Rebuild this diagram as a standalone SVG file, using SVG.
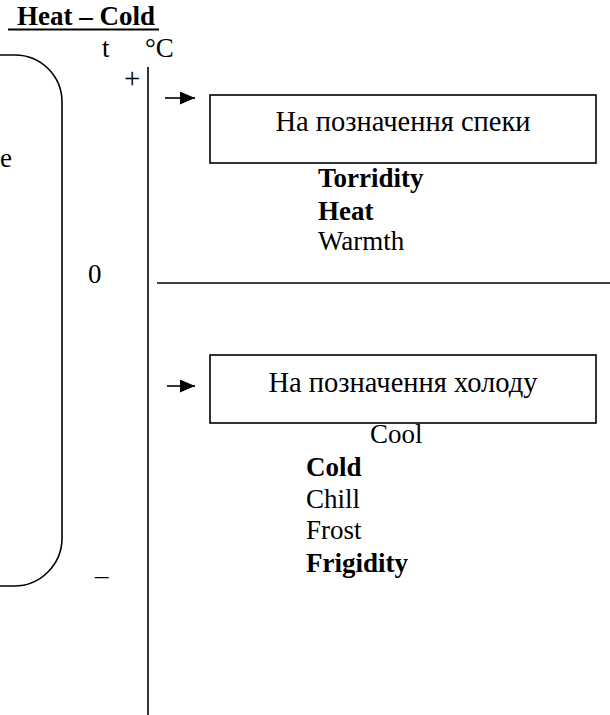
<svg xmlns="http://www.w3.org/2000/svg" width="610" height="715" viewBox="0 0 610 715">
<style>
text{font-family:"Liberation Serif","Times New Roman",serif;font-size:27px;fill:#000}
.b{font-weight:bold}
.m{text-anchor:middle;font-size:28.5px}
.ln{stroke:#000;stroke-width:1.6;fill:none}
.box{stroke:#000;stroke-width:1.6;fill:#fff}
</style>
<defs>
<marker id="ah" markerWidth="15" markerHeight="13" refX="15" refY="6.5" orient="auto" markerUnits="userSpaceOnUse">
<path d="M0,0 L15,6.5 L0,13 Z" fill="#000"/>
</marker>
</defs>
<g id="title">
<text class="b" x="17" y="25">Heat – Cold</text>
<line x1="8" y1="29.5" x2="159" y2="29.5" stroke="#000" stroke-width="2"/>
</g>
<g id="scale">
<text x="102" y="57">t</text>
<text x="145" y="57">°C</text>
<text x="124" y="88" style="font-size:29px">+</text>
<text x="88" y="283">0</text>
<text x="95" y="584">–</text>
<line class="ln" x1="148" y1="67" x2="148" y2="715"/>
<line class="ln" x1="157" y1="283" x2="610" y2="283"/>
</g>
<g id="bracket">
<path class="ln" d="M0,55 H15 A47,47 0 0 1 62,102 V538 A48,48 0 0 1 14,586 H0"/>
<text x="0" y="167">e</text>
</g>
<g id="box-heat">
<rect class="box" x="210" y="95" width="386" height="68"/>
<text class="m" x="403" y="131">На позначення спеки</text>
</g>
<g id="list-heat">
<text class="b" x="318" y="187">Torridity</text>
<text class="b" x="318" y="220">Heat</text>
<text x="318" y="250">Warmth</text>
</g>
<g id="box-cold">
<rect class="box" x="210" y="355" width="386" height="68"/>
<text class="m" x="403" y="392">На позначення холоду</text>
</g>
<g id="list-cold">
<text x="370" y="443">Cool</text>
<text class="b" x="306" y="476">Cold</text>
<text x="306" y="508">Chill</text>
<text x="306" y="539">Frost</text>
<text class="b" x="306" y="572">Frigidity</text>
</g>
<g id="connectors">
<line class="ln" x1="165" y1="98" x2="195" y2="98" marker-end="url(#ah)"/>
<line class="ln" x1="167" y1="386" x2="195" y2="386" marker-end="url(#ah)"/>
</g>
</svg>
